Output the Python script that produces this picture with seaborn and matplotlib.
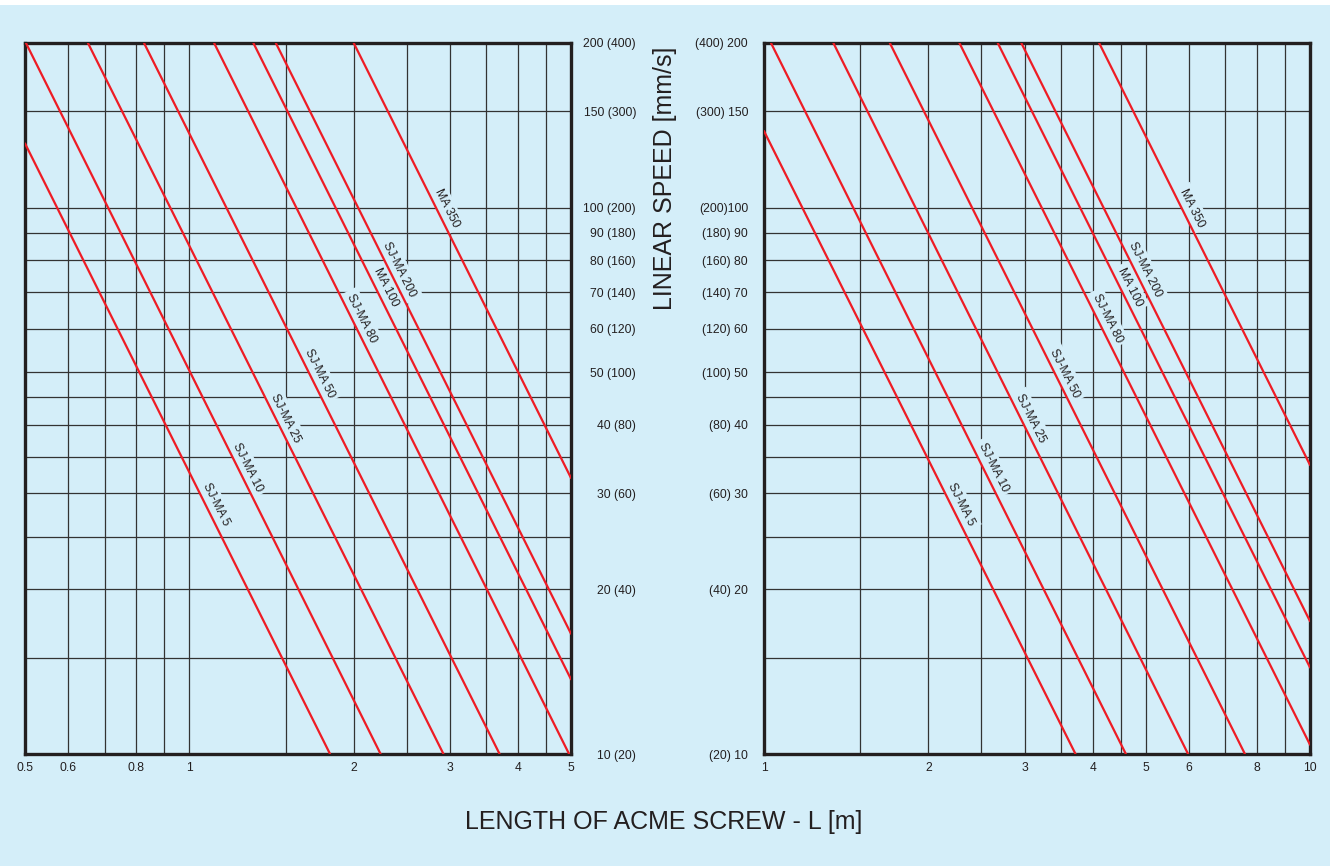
import numpy as np
import pandas as pd
import matplotlib
matplotlib.use('Agg')
import matplotlib.pyplot as plt
import seaborn as sns
from matplotlib.patches import Rectangle
from matplotlib.ticker import NullFormatter

sns.set_style('white')
plt.rcParams['font.family'] = ['Liberation Sans', 'DejaVu Sans']

screws = ['SJ-MA 5', 'SJ-MA 10', 'SJ-MA 25', 'SJ-MA 50', 'SJ-MA 80',
          'MA 100', 'SJ-MA 200', 'MA 350']

# left chart (0.5 - 5 m), start and end of each line
left_L_start = [0.50, 0.502, 0.652, 0.826, 1.11, 1.31, 1.44, 2.0]
left_v_start = [131, 200, 200, 200, 200, 200, 200, 200]
left_L_end = [1.81, 2.24, 2.92, 3.70, 4.96, 5.0, 5.0, 5.0]
left_v_end = [10, 10, 10, 10, 10, 13.7, 16.6, 32]

# right chart (1 - 10 m)
right_L_start = [1.0, 1.03, 1.34, 1.70, 2.28, 2.68, 2.96, 4.11]
right_v_start = [138, 200, 200, 200, 200, 200, 200, 200]
right_L_end = [3.72, 4.6, 5.98, 7.6, 10, 10, 10, 10]
right_v_end = [10, 10, 10, 10, 10.4, 14.4, 17.5, 33.8]

# speed where each label sits
label_speed = [28.6, 33.5, 41.2, 49.8, 62.8, 71.5, 76.9, 99.8]

y_ticks = [10, 20, 30, 40, 50, 60, 70, 80, 90, 100, 150, 200]
y_labels_left = ['10 (20)', '20 (40)', '30 (60)', '40 (80)', '50 (100)', '60 (120)',
                 '70 (140)', '80 (160)', '90 (180)', '100 (200)', '150 (300)', '200 (400)']
y_labels_right = ['(20) 10', '(40) 20', '(60) 30', '(80) 40', '(100) 50', '(120) 60',
                  '(140) 70', '(160) 80', '(180) 90', '(200)100', '(300) 150', '(400) 200']
y_extra = [15, 25, 35, 45]

x_ticks_left = [0.5, 0.6, 0.8, 1, 2, 3, 4, 5]
x_extra_left = [0.7, 0.9, 1.5, 2.5, 3.5, 4.5]
x_ticks_right = [1, 2, 3, 4, 5, 6, 8, 10]
x_extra_right = [1.5, 2.5, 3.5, 4.5, 7, 9]

bg = '#D4EEF9'
red = '#EE1C25'
ink = '#231F20'


def make_df(L0, v0, L1, v1):
    rows = []
    for i, name in enumerate(screws):
        rows.append([name, L0[i], v0[i]])
        rows.append([name, L1[i], v1[i]])
    return pd.DataFrame(rows, columns=['screw', 'L', 'v'])


def draw_panel(ax, df, xlim, xt, xextra):
    ax.set_facecolor(bg)
    ax.set_xscale('log')
    ax.set_yscale('log')
    sns.lineplot(data=df, x='L', y='v', units='screw', estimator=None,
                 color=red, lw=1.6, ax=ax, zorder=4)
    ax.set_xlim(*xlim)
    ax.set_ylim(10, 200)
    ax.set_xticks(xt, labels=[('%g' % t) for t in xt])
    ax.set_xticks(xextra, minor=True)
    ax.set_yticks(y_extra, minor=True)
    ax.xaxis.set_minor_formatter(NullFormatter())
    ax.yaxis.set_minor_formatter(NullFormatter())
    ax.grid(True, which='both', color='#333333', lw=0.9)
    ax.set_axisbelow(True)
    ax.set_xlabel('')
    ax.set_ylabel('')
    for s in ax.spines.values():
        s.set_linewidth(2.4)
        s.set_color(ink)
    ax.tick_params(axis='both', which='both', length=0, labelsize=8.7, labelcolor=ink)
    ax.tick_params(axis='x', pad=6)

    # labels along the lines
    for i, name in enumerate(screws):
        L0, L1 = df.loc[df.screw == name, 'L'].values
        v0, v1 = df.loc[df.screw == name, 'v'].values
        t = (np.log(label_speed[i]) - np.log(v0)) / (np.log(v1) - np.log(v0))
        Lx = np.exp(np.log(L0) + t * (np.log(L1) - np.log(L0)))
        ax.annotate(name, xy=(Lx, label_speed[i]), xytext=(7.5, 0),
                    textcoords='offset points', rotation=-63.4,
                    rotation_mode='anchor', ha='center', va='center',
                    fontsize=8.8, color=ink, zorder=3,
                    bbox=dict(boxstyle='square,pad=0.3', fc=bg, ec='none'))


fig = plt.figure(figsize=(13.35, 8.66), dpi=100, facecolor='white')
fig.patches.append(Rectangle((0, 0), 1330 / 1335, 861 / 866, transform=fig.transFigure,
                             fc=bg, ec='none', zorder=-10))

ax1 = fig.add_axes([25 / 1335, 112 / 866, 546 / 1335, 711 / 866])
ax2 = fig.add_axes([764 / 1335, 112 / 866, 546 / 1335, 711 / 866])

draw_panel(ax1, make_df(left_L_start, left_v_start, left_L_end, left_v_end),
           (0.5, 5), x_ticks_left, x_extra_left)
draw_panel(ax2, make_df(right_L_start, right_v_start, right_L_end, right_v_end),
           (1, 10), x_ticks_right, x_extra_right)

ax1.yaxis.tick_right()
ax1.set_yticks(y_ticks, labels=y_labels_left)
ax1.tick_params(axis='y', which='both', length=0, pad=46.8)
for lab in ax1.get_yticklabels():
    lab.set_horizontalalignment('right')

ax2.set_yticks(y_ticks, labels=y_labels_right)
ax2.tick_params(axis='y', which='both', length=0, pad=11.5)

fig.text(665 / 1335, 1 - 178 / 866, 'LINEAR SPEED [mm/s]', rotation=90,
         ha='center', va='center', fontsize=18, color=ink)
fig.text(664 / 1335, 1 - 822 / 866, 'LENGTH OF ACME SCREW - L [m]',
         ha='center', va='center', fontsize=18, color=ink)

fig.savefig('out.png', dpi=100, facecolor=fig.get_facecolor())
